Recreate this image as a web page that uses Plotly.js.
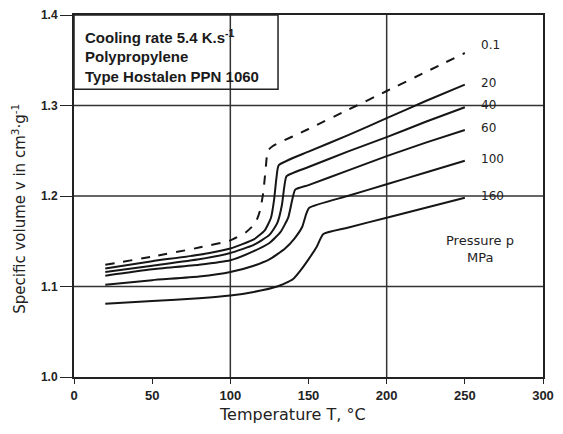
<!DOCTYPE html>
<html>
<head>
<meta charset="utf-8">
<script src="https://cdn.plot.ly/plotly-3.0.1.min.js"></script>
<style>
html,body{margin:0;padding:0;background:#fff;}
#chart{width:563px;height:434px;}
</style>
</head>
<body>
<div id="chart"></div>
<script>
// Pressure labels (MPa)
const pressures = ["0.1", "20", "40", "60", "100", "160"];

// Temperature (°C) and specific volume (cm3/g) per pressure curve
const T_01  = [20, 50, 80, 100, 110, 116, 119, 121, 122.5, 124, 127, 150, 175, 200, 225, 250];
const v_01  = [1.124, 1.133, 1.143, 1.151, 1.160, 1.170, 1.184, 1.203, 1.228, 1.250, 1.255, 1.274, 1.295, 1.316, 1.337, 1.358];

const T_20  = [20, 50, 80, 100, 115, 122, 126, 128, 129.5, 131, 150, 175, 200, 225, 250];
const v_20  = [1.120, 1.128, 1.135, 1.142, 1.152, 1.162, 1.176, 1.196, 1.220, 1.234, 1.249, 1.267, 1.286, 1.305, 1.323];

const T_40  = [20, 50, 80, 100, 115, 125, 130, 133, 134.5, 136, 150, 175, 200, 225, 250];
const v_40  = [1.116, 1.123, 1.130, 1.137, 1.146, 1.157, 1.170, 1.190, 1.210, 1.222, 1.232, 1.249, 1.265, 1.282, 1.298];

const T_60  = [20, 50, 80, 100, 115, 125, 132, 137, 139.5, 141.5, 150, 175, 200, 225, 250];
const v_60  = [1.112, 1.119, 1.124, 1.129, 1.139, 1.148, 1.160, 1.176, 1.195, 1.207, 1.212, 1.228, 1.244, 1.259, 1.273];

const T_100 = [20, 50, 80, 100, 115, 125, 135, 141, 146, 148.5, 150.5, 175, 200, 225, 250];
const v_100 = [1.102, 1.107, 1.111, 1.116, 1.123, 1.130, 1.142, 1.153, 1.166, 1.180, 1.187, 1.200, 1.213, 1.226, 1.239];

const T_160 = [20, 50, 80, 100, 115, 130, 140, 145, 150, 155, 159.5, 175, 200, 225, 250];
const v_160 = [1.081, 1.084, 1.087, 1.090, 1.094, 1.100, 1.108, 1.118, 1.130, 1.143, 1.158, 1.165, 1.176, 1.187, 1.198];

const xTicks = [0, 50, 100, 150, 200, 250, 300];
const yTicks = [1.0, 1.1, 1.2, 1.3, 1.4];
const yTickText = ["1.0", "1.1", "1.2", "1.3", "1.4"];
const xGrid = [100, 200];
const yGrid = [1.1, 1.2, 1.3];

const curves = [
  {T: T_01, v: v_01, dash: "dash"},
  {T: T_20, v: v_20, dash: "solid"},
  {T: T_40, v: v_40, dash: "solid"},
  {T: T_60, v: v_60, dash: "solid"},
  {T: T_100, v: v_100, dash: "solid"},
  {T: T_160, v: v_160, dash: "solid"}
];

const ink = "#161616";
const traces = curves.map((c, i) => ({
  x: c.T, y: c.v, type: "scatter", mode: "lines",
  name: pressures[i] + " MPa",
  line: {color: ink, width: 2, dash: c.dash, shape: "spline", smoothing: 0.5},
  hoverinfo: "x+y+name"
}));

const shapes = [];
xGrid.forEach(x => shapes.push({type: "line", xref: "x", yref: "y", x0: x, x1: x, y0: 1.0, y1: 1.4, line: {color: "#333", width: 1.5}, layer: "below"}));
yGrid.forEach(y => shapes.push({type: "line", xref: "x", yref: "y", x0: 0, x1: 300, y0: y, y1: y, line: {color: "#333", width: 1.5}, layer: "below"}));
// info box
shapes.push({type: "rect", xref: "x", yref: "y", x0: 0, x1: 130.5, y0: 1.318, y1: 1.4, line: {color: "#222", width: 1.5}, fillcolor: "rgba(0,0,0,0)"});

const lblFont = {family: "DejaVu Sans, sans-serif", size: 12, color: "#222"};
const annotations = [];
curves.forEach((c, i) => {
  const lastT = c.T[c.T.length - 1];
  const lastV = c.v[c.v.length - 1];
  annotations.push({
    x: lastT, y: lastV, xref: "x", yref: "y", text: pressures[i],
    showarrow: false, xanchor: "left", yanchor: "middle", xshift: 14, yshift: i === 0 ? 8 : 2,
    font: lblFont
  });
});
const pFont = {family: "DejaVu Sans, sans-serif", size: 13, color: "#222"};
annotations.push({x: 260, y: 1.151, xref: "x", yref: "y", text: "Pressure p", showarrow: false, xanchor: "center", yanchor: "middle", font: pFont});
annotations.push({x: 260, y: 1.1315, xref: "x", yref: "y", text: "MPa", showarrow: false, xanchor: "center", yanchor: "middle", font: pFont});

const boxFont = {family: "Liberation Sans, Arial, sans-serif", size: 15, color: "#1a1a1a"};
const boxLines = ["<b>Cooling rate 5.4 K.s<sup>-1</sup></b>", "<b>Polypropylene</b>", "<b>Type Hostalen PPN 1060</b>"];
const boxY = [1.3757, 1.3536, 1.3315];
boxLines.forEach((t, i) => annotations.push({x: 6, y: boxY[i], xref: "x", yref: "y", text: t, showarrow: false, xanchor: "left", yanchor: "middle", font: boxFont}));

// axis titles as annotations
annotations.push({xref: "paper", yref: "paper", x: 0.465, y: -0.072, yanchor: "top", xanchor: "center", text: "Temperature T, °C", showarrow: false, font: {family: "DejaVu Sans, sans-serif", size: 16, color: "#222"}});
annotations.push({xref: "paper", yref: "paper", x: -0.118, y: 0.464, xanchor: "center", yanchor: "middle", textangle: -90, text: "Specific volume v in cm<sup>3</sup>·g<sup>-1</sup>", showarrow: false, font: {family: "DejaVu Sans, sans-serif", size: 15, color: "#222"}});

const layout = {
  width: 563, height: 434,
  margin: {l: 74, r: 20, t: 15, b: 57},
  paper_bgcolor: "#fff", plot_bgcolor: "#fff",
  showlegend: false,
  xaxis: {
    range: [0, 300], tickvals: xTicks, ticktext: xTicks.map(String),
    showgrid: false, zeroline: false, showline: true, mirror: true,
    linecolor: "#222", linewidth: 2, ticks: "outside", ticklen: 5, tickcolor: "#222",
    tickfont: {family: "Liberation Sans, Arial, sans-serif", size: 13, color: "#222", weight: "bold"}
  },
  yaxis: {
    range: [1.0, 1.4], tickvals: yTicks, ticktext: yTickText,
    showgrid: false, zeroline: false, showline: true, mirror: true,
    linecolor: "#222", linewidth: 2, ticks: "outside", ticklen: 12, tickcolor: "#222",
    tickfont: {family: "Liberation Sans, Arial, sans-serif", size: 12, color: "#222", weight: "bold"}
  },
  shapes: shapes,
  annotations: annotations
};

Plotly.newPlot("chart", traces, layout, {displayModeBar: false, staticPlot: true});
</script>
</body>
</html>
